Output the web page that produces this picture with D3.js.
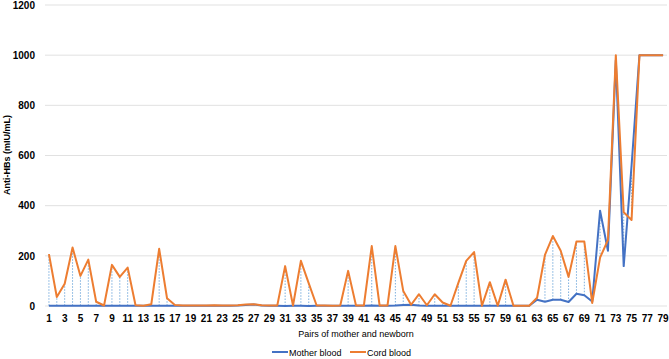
<!DOCTYPE html>
<html>
<head>
  <script src="https://d3js.org/d3.v7.js"></script>
  <style>
    html, body {
      margin: 0px;
      padding: 0px;
      background: #fff;
      font-family: "Liberation Sans", Arial, sans-serif;
    }
    #chart {
      width: 669px;
      height: 359px;
      position: relative;
    }
    .tick text {
      font-size: 10px;
      font-weight: bold;
      fill: #000;
    }
  </style>
</head>
<body>
  <div id="chart"></div>
  <script>
    // pairs of mother and newborn, 1..79
    const pairs = d3.range(1, 80);

    const motherBlood = [
      1, 1, 1, 1, 1, 1, 1, 1, 1, 1,
      1, 1, 1, 1, 1, 1, 1, 1, 1, 1,
      1, 1, 1, 1, 2, 4, 6, 2, 1, 1,
      0, 1, 1, 0, 1, 1, 1, 1, 1, 1,
      1, 2, 1, 1, 2, 4, 5, 2, 1, 1,
      1, 1, 1, 1, 1, 1, 1, 1, 1, 1,
      1, 1, 25, 17, 25, 25, 16, 49, 43, 18,
      380, 220, 980, 159, 560, 1000, 1000, 1000, 1000
    ];

    const cordBlood = [
      207, 36, 89, 233, 120, 185, 17, 2, 164, 116,
      153, 3, 1, 7, 228, 31, 4, 2, 2, 2,
      2, 3, 2, 2, 3, 6, 7, 3, 2, 2,
      159, 2, 180, 90, 2, 2, 1, 2, 140, 2,
      2, 239, 2, 2, 239, 60, 5, 47, 3, 47,
      14, 1, 92, 180, 215, 1, 95, 1, 105, 1,
      1, 1, 33, 204, 279, 220, 116, 257, 257, 12,
      193, 263, 1000, 374, 343, 1000, 1000, 1000, 1000
    ];

    const yTicks = [0, 200, 400, 600, 800, 1000, 1200];

    const width = 669;
    const height = 359;
    const margin = {top: 5, left: 45, right: 2, bottom: 53};

    const svg = d3.select("#chart")
      .append("svg")
      .attr("width", width)
      .attr("height", height);

    const xScale = d3.scaleBand()
      .domain(pairs)
      .range([margin.left, width - margin.right]);

    const yScale = d3.scaleLinear()
      .domain([0, 1200])
      .range([height - margin.bottom, margin.top]);

    const cx = d => xScale(d) + xScale.bandwidth() / 2;

    // gridlines
    svg.append("g")
      .selectAll("line")
      .data(yTicks)
      .enter()
      .append("line")
        .attr("x1", margin.left)
        .attr("x2", width - margin.right)
        .attr("y1", d => yScale(d))
        .attr("y2", d => yScale(d))
        .attr("stroke", "#d9d9d9")
        .attr("stroke-width", 0.8);

    // y axis labels
    const yAxis = svg.append("g")
      .attr("transform", `translate(${margin.left - 5},0)`)
      .call(d3.axisLeft(yScale).tickValues(yTicks).tickFormat(d3.format("d")).tickSize(0).tickPadding(5));
    yAxis.select(".domain").remove();

    // x axis labels (every other pair)
    const xAxis = svg.append("g")
      .attr("transform", `translate(0,${height - margin.bottom + 4})`)
      .call(d3.axisBottom(xScale)
        .tickValues(pairs.filter(d => d % 2 === 1))
        .tickSize(0)
        .tickPadding(5));
    xAxis.select(".domain").remove();

    // high-low drop lines between the two series
    svg.append("g")
      .selectAll("line")
      .data(pairs)
      .enter()
      .append("line")
        .attr("x1", d => cx(d))
        .attr("x2", d => cx(d))
        .attr("y1", (d, i) => yScale(motherBlood[i]))
        .attr("y2", (d, i) => yScale(cordBlood[i]))
        .attr("stroke", "#5b9bd5")
        .attr("stroke-width", 0.8)
        .attr("stroke-dasharray", "1.5,1.5");

    const line = d3.line()
      .x((d, i) => cx(pairs[i]))
      .y(d => yScale(d));

    svg.append("path")
      .datum(motherBlood)
      .attr("d", line)
      .attr("fill", "none")
      .attr("stroke", "#4472c4")
      .attr("stroke-width", 2)
      .attr("stroke-linejoin", "round");

    svg.append("path")
      .datum(cordBlood)
      .attr("d", line)
      .attr("fill", "none")
      .attr("stroke", "#ed7d31")
      .attr("stroke-width", 2)
      .attr("stroke-linejoin", "round");

    // axis titles
    svg.append("text")
      .attr("x", 356)
      .attr("y", 337)
      .attr("text-anchor", "middle")
      .attr("font-size", "9px")
      .text("Pairs of mother and newborn");

    svg.append("text")
      .attr("transform", "translate(10,155) rotate(-90)")
      .attr("text-anchor", "middle")
      .attr("font-size", "9px")
      .attr("font-weight", "bold")
      .text("Anti-HBs (mIU/mL)");

    // legend
    const legend = [
      {name: "Mother blood", color: "#4472c4", x: 272},
      {name: "Cord blood", color: "#ed7d31", x: 350}
    ];
    const lg = svg.append("g").selectAll("g")
      .data(legend)
      .enter()
      .append("g")
      .attr("transform", d => `translate(${d.x},352)`);
    lg.append("line")
      .attr("x1", 0).attr("x2", 16)
      .attr("stroke", d => d.color)
      .attr("stroke-width", 2);
    lg.append("text")
      .attr("x", 17)
      .attr("y", 3.5)
      .attr("font-size", "9px")
      .text(d => d.name);
  </script>
</body>
</html>
